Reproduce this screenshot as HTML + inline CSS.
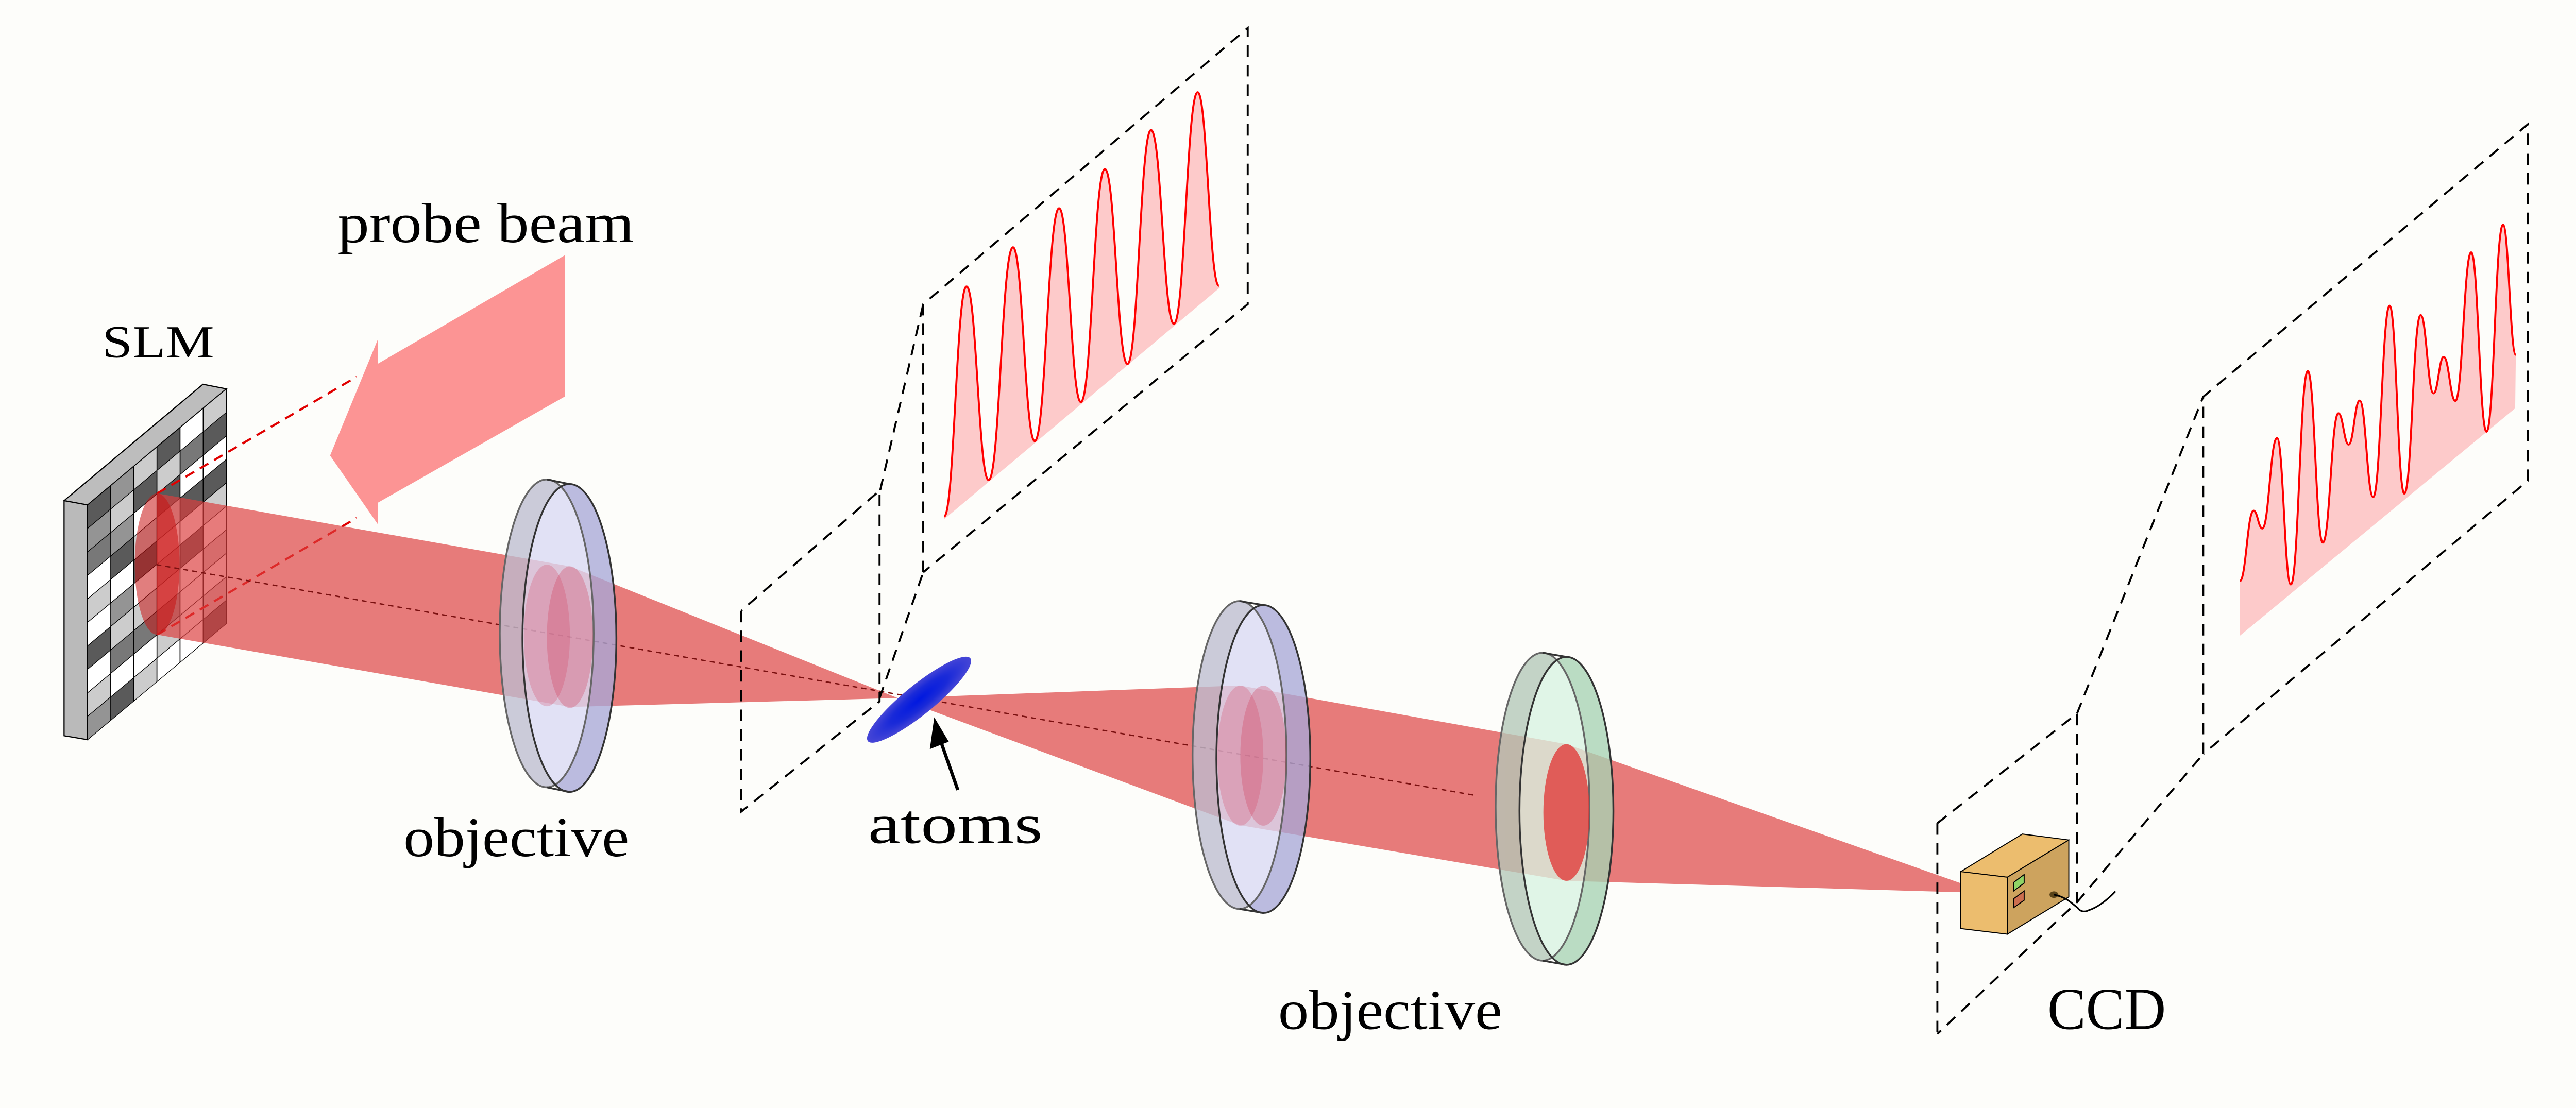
<!DOCTYPE html>
<html><head><meta charset="utf-8"><style>
html,body{margin:0;padding:0;background:#fdfdfa;}
svg{display:block;}
text{font-family:"Liberation Serif",serif;fill:#000;}
</style></head><body>
<svg width="5013" height="2151" viewBox="0 0 1568 673" preserveAspectRatio="none" xmlns="http://www.w3.org/2000/svg">
<rect width="1568" height="673" fill="#fdfdfa"/>

<!-- SLM -->
<polygon points="38.9,304.1 123.2,233.4 137.4,236.2 53.2,306.7" fill="#bdbdbd" stroke="#000" stroke-width="0.7"/>
<polygon points="38.9,304.1 53.2,306.7 53.2,449.3 38.9,446.9" fill="#bababa" stroke="#000" stroke-width="0.7"/>
<g transform="matrix(1,-0.837,0,1,53.2,306.7)" stroke="#000" stroke-width="0.5">
<g fill="#5a5a5a">
<rect x="0" y="0" width="14.03" height="14.26"/>
<rect x="0" y="85.56" width="14.03" height="14.26"/>
<rect x="14.03" y="42.78" width="14.03" height="14.26"/>
<rect x="14.03" y="128.34" width="14.03" height="14.26"/>
<rect x="28.06" y="14.26" width="14.03" height="14.26"/>
<rect x="28.06" y="57.04" width="14.03" height="14.26"/>
<rect x="42.09" y="0" width="14.03" height="14.26"/>
<rect x="42.09" y="28.52" width="14.03" height="14.26"/>
<rect x="56.12" y="42.78" width="14.03" height="14.26"/>
<rect x="56.12" y="71.3" width="14.03" height="14.26"/>
<rect x="70.15" y="14.26" width="14.03" height="14.26"/>
<rect x="70.15" y="42.78" width="14.03" height="14.26"/>
<rect x="70.15" y="128.34" width="14.03" height="14.26"/>
</g>
<g fill="#949494">
<rect x="0" y="14.26" width="14.03" height="14.26"/>
<rect x="0" y="128.34" width="14.03" height="14.26"/>
<rect x="14.03" y="0" width="14.03" height="14.26"/>
<rect x="14.03" y="28.52" width="14.03" height="14.26"/>
<rect x="14.03" y="71.3" width="14.03" height="14.26"/>
<rect x="42.09" y="99.82" width="14.03" height="14.26"/>
</g>
<g fill="#787878">
<rect x="0" y="28.52" width="14.03" height="14.26"/>
<rect x="14.03" y="99.82" width="14.03" height="14.26"/>
<rect x="28.06" y="99.82" width="14.03" height="14.26"/>
<rect x="56.12" y="14.26" width="14.03" height="14.26"/>
</g>
<g fill="#cccccc">
<rect x="0" y="57.04" width="14.03" height="14.26"/>
<rect x="0" y="114.08" width="14.03" height="14.26"/>
<rect x="14.03" y="14.26" width="14.03" height="14.26"/>
<rect x="14.03" y="85.56" width="14.03" height="14.26"/>
<rect x="28.06" y="0" width="14.03" height="14.26"/>
<rect x="28.06" y="42.78" width="14.03" height="14.26"/>
<rect x="28.06" y="85.56" width="14.03" height="14.26"/>
<rect x="28.06" y="128.34" width="14.03" height="14.26"/>
<rect x="42.09" y="14.26" width="14.03" height="14.26"/>
<rect x="42.09" y="42.78" width="14.03" height="14.26"/>
<rect x="42.09" y="71.3" width="14.03" height="14.26"/>
<rect x="42.09" y="114.08" width="14.03" height="14.26"/>
<rect x="70.15" y="0" width="14.03" height="14.26"/>
<rect x="70.15" y="57.04" width="14.03" height="14.26"/>
<rect x="70.15" y="85.56" width="14.03" height="14.26"/>
<rect x="70.15" y="114.08" width="14.03" height="14.26"/>
</g>
<g fill="#ffffff">
<rect x="0" y="42.78" width="14.03" height="14.26"/>
<rect x="0" y="71.3" width="14.03" height="14.26"/>
<rect x="0" y="99.82" width="14.03" height="14.26"/>
<rect x="14.03" y="57.04" width="14.03" height="14.26"/>
<rect x="14.03" y="114.08" width="14.03" height="14.26"/>
<rect x="28.06" y="28.52" width="14.03" height="14.26"/>
<rect x="28.06" y="71.3" width="14.03" height="14.26"/>
<rect x="28.06" y="114.08" width="14.03" height="14.26"/>
<rect x="42.09" y="57.04" width="14.03" height="14.26"/>
<rect x="42.09" y="85.56" width="14.03" height="14.26"/>
<rect x="42.09" y="128.34" width="14.03" height="14.26"/>
<rect x="56.12" y="0" width="14.03" height="14.26"/>
<rect x="56.12" y="28.52" width="14.03" height="14.26"/>
<rect x="56.12" y="57.04" width="14.03" height="14.26"/>
<rect x="56.12" y="85.56" width="14.03" height="14.26"/>
<rect x="56.12" y="99.82" width="14.03" height="14.26"/>
<rect x="56.12" y="114.08" width="14.03" height="14.26"/>
<rect x="56.12" y="128.34" width="14.03" height="14.26"/>
<rect x="70.15" y="28.52" width="14.03" height="14.26"/>
<rect x="70.15" y="71.3" width="14.03" height="14.26"/>
<rect x="70.15" y="99.82" width="14.03" height="14.26"/>
</g>
</g>

<!-- probe beam arrow -->
<polygon points="343,155 343,240.8 229.5,305.3 229.5,318.6 200.4,276.7 229.5,205.9 229.5,220.9" fill="#fc9494"/>
<g stroke="#e00000" stroke-width="1.3" stroke-dasharray="6,4" fill="none">
<line x1="95.4" y1="299.7" x2="216.5" y2="228.9"/>
<line x1="95.4" y1="385.5" x2="216.5" y2="314.6"/>
</g>

<!-- beams -->
<g fill="rgb(220,60,60)" fill-opacity="0.68">
<polygon points="95.4,299.7 346,344 346,429.4 95.4,385.5"/>
<polygon points="346,344 545,424 346,429.4"/>
<polygon points="545,424 752.7,416.4 752.7,501.2"/>
<polygon points="752.7,416.4 951,452 951,535 752.7,501.2"/>
<polygon points="951,452 1192,537 1192,542 951,535"/>
</g>
<ellipse cx="95.4" cy="342.6" rx="13.6" ry="42.9" fill="rgb(200,20,20)" fill-opacity="0.55"/>

<!-- axis -->
<line x1="95" y1="343" x2="895" y2="483" stroke="#7a1010" stroke-width="0.8" stroke-dasharray="3,2.5"/>

<!-- lens 1 -->
<defs>
<clipPath id="c1"><ellipse cx="331.9" cy="384.7" rx="28.5" ry="93.5"/></clipPath>
<clipPath id="c2"><ellipse cx="752.5" cy="458.6" rx="28.5" ry="93.5"/></clipPath>
<clipPath id="c3"><ellipse cx="936.5" cy="490" rx="28.5" ry="93.5"/></clipPath>
<radialGradient id="ag" cx="0.5" cy="0.5" r="0.5"><stop offset="0" stop-color="#0018e0"/><stop offset="0.55" stop-color="#1a2ad8"/><stop offset="1" stop-color="#4646d6"/></radialGradient>
</defs>
<g opacity="0.78">
<ellipse cx="331.9" cy="384.7" rx="28.5" ry="93.5" fill="#bdbdd0"/>
<ellipse cx="345.7" cy="387.5" rx="28.5" ry="93.5" fill="#a9a9d8"/>
<ellipse cx="345.7" cy="387.5" rx="28.5" ry="93.5" fill="#dadaf4" clip-path="url(#c1)"/>
</g>
<g fill="none" stroke="#333" stroke-width="1.1">
<ellipse cx="331.9" cy="384.7" rx="28.5" ry="93.5" stroke="#666"/>
<ellipse cx="345.7" cy="387.5" rx="28.5" ry="93.5"/>
<line x1="331.9" y1="291.2" x2="345.7" y2="294"/>
<line x1="331.9" y1="478.2" x2="345.7" y2="481"/>
</g>
<ellipse cx="332" cy="386" rx="14" ry="43" fill="rgb(210,60,90)" fill-opacity="0.25"/>
<ellipse cx="346" cy="387" rx="14" ry="43" fill="rgb(210,60,90)" fill-opacity="0.3"/>

<!-- lens 2 -->
<g opacity="0.78">
<ellipse cx="752.5" cy="458.6" rx="28.5" ry="93.5" fill="#bdbdd0"/>
<ellipse cx="767" cy="461" rx="28.5" ry="93.5" fill="#a9a9d8"/>
<ellipse cx="767" cy="461" rx="28.5" ry="93.5" fill="#dadaf4" clip-path="url(#c2)"/>
</g>
<g fill="none" stroke="#333" stroke-width="1.1">
<ellipse cx="752.5" cy="458.6" rx="28.5" ry="93.5" stroke="#666"/>
<ellipse cx="767" cy="461" rx="28.5" ry="93.5"/>
<line x1="752.5" y1="365.1" x2="767" y2="367.5"/>
<line x1="752.5" y1="552.1" x2="767" y2="554.5"/>
</g>
<ellipse cx="753" cy="459" rx="14" ry="42.5" fill="rgb(210,60,90)" fill-opacity="0.25"/>
<ellipse cx="767" cy="459" rx="14" ry="42.5" fill="rgb(210,60,90)" fill-opacity="0.3"/>

<!-- lens 3 -->
<g opacity="0.78">
<ellipse cx="936.5" cy="490" rx="28.5" ry="93.5" fill="#b4c8b8"/>
<ellipse cx="951" cy="492.5" rx="28.5" ry="93.5" fill="#a8d4b4"/>
<ellipse cx="951" cy="492.5" rx="28.5" ry="93.5" fill="#d9f4e2" clip-path="url(#c3)"/>
</g>
<g fill="none" stroke="#333" stroke-width="1.1">
<ellipse cx="936.5" cy="490" rx="28.5" ry="93.5" stroke="#666"/>
<ellipse cx="951" cy="492.5" rx="28.5" ry="93.5"/>
<line x1="936.5" y1="396.5" x2="951" y2="399"/>
<line x1="936.5" y1="583.5" x2="951" y2="586"/>
</g>
<ellipse cx="951" cy="493.5" rx="14" ry="41.5" fill="rgb(225,50,50)" fill-opacity="0.75"/>

<!-- atoms -->
<ellipse cx="558" cy="425" rx="40" ry="9" transform="rotate(-39 558 425)" fill="url(#ag)"/>
<line x1="581.5" y1="479.8" x2="570" y2="447" stroke="#000" stroke-width="2"/>
<polygon points="567.2,435.7 564.5,455 576,450.5" fill="#000"/>

<!-- dashed planes -->
<g fill="none" stroke="#000" stroke-width="1.2" stroke-dasharray="7,5">
<polyline points="450,371 450,493 534,426 534,298 450,371"/>
<line x1="534.4" y1="297.7" x2="560.5" y2="184.8"/>
<line x1="534" y1="424" x2="560.5" y2="347.6"/>
<polyline points="560.5,347.6 560.5,184.8 757.5,17 757.5,184.8 560.5,347.6"/>

<polyline points="1176.2,500 1261,433.4 1261,548 1176.2,628"/>
<line x1="1176.2" y1="500" x2="1176.2" y2="632"/>
<line x1="1261" y1="433.4" x2="1337.6" y2="241"/>
<line x1="1261" y1="548" x2="1337.6" y2="458"/>
<polyline points="1337.6,458 1337.6,241 1534.7,75.5 1534.7,292 1337.6,458"/>
</g>

<!-- peaks plane 2 -->
<path d="M573.2,313.7 C579.3,313.7 580.7,174 586.8,174 C592.8,174 594.2,291.6 600.2,291.6 C606.9,291.6 608.3,150.2 615,150.2 C620.9,150.2 622.3,267.9 628.2,267.9 C634.9,267.9 636.3,126.5 643,126.5 C648.9,126.5 650.3,244.2 656.2,244.2 C662.8,244.2 664.2,102.7 670.8,102.7 C677,102.7 678.3,221.1 684.5,221.1 C690.9,221.1 692.4,79 698.8,79 C705.1,79 706.4,196.7 712.7,196.7 C719.2,196.7 720.6,56 727.1,56 C732.9,56 734.2,173.6 740,173.6 L740.7,174.6 L573.2,315.4 Z" fill="#fdcaca"/>
<path d="M573.2,313.7 C579.3,313.7 580.7,174 586.8,174 C592.8,174 594.2,291.6 600.2,291.6 C606.9,291.6 608.3,150.2 615,150.2 C620.9,150.2 622.3,267.9 628.2,267.9 C634.9,267.9 636.3,126.5 643,126.5 C648.9,126.5 650.3,244.2 656.2,244.2 C662.8,244.2 664.2,102.7 670.8,102.7 C677,102.7 678.3,221.1 684.5,221.1 C690.9,221.1 692.4,79 698.8,79 C705.1,79 706.4,196.7 712.7,196.7 C719.2,196.7 720.6,56 727.1,56 C732.9,56 734.2,173.6 740,173.6" fill="none" stroke="#f00" stroke-width="1.2"/>

<!-- peaks plane 4 -->
<path d="M1359.8,353 C1363.6,353 1364.4,310.2 1368.2,310.2 C1370.6,310.2 1371.1,321 1373.5,321 C1377.5,321 1378.4,266.1 1382.4,266.1 C1386.2,266.1 1387,355 1390.8,355 C1395.4,355 1396.5,225.4 1401.1,225.4 C1405.2,225.4 1406.1,329.6 1410.2,329.6 C1414.5,329.6 1415.4,251 1419.7,251 C1422.5,251 1423.1,270 1425.9,270 C1428.9,270 1429.6,243.3 1432.6,243.3 C1436.3,243.3 1437.1,301.9 1440.8,301.9 C1445.3,301.9 1446.3,185.7 1450.8,185.7 C1454.8,185.7 1455.7,299.8 1459.7,299.8 C1464.2,299.8 1465.1,191.4 1469.6,191.4 C1473.1,191.4 1473.9,238.9 1477.4,238.9 C1480.2,238.9 1480.8,216.8 1483.6,216.8 C1486.8,216.8 1487.5,243.5 1490.7,243.5 C1495,243.5 1496,153.3 1500.3,153.3 C1504.5,153.3 1505.4,262.2 1509.6,262.2 C1514.1,262.2 1515.1,136.5 1519.6,136.5 C1523.1,136.5 1523.9,215.5 1527.4,215.5 L1527,248 L1359.8,386.2 Z" fill="#fdcaca"/>
<path d="M1359.8,353 C1363.6,353 1364.4,310.2 1368.2,310.2 C1370.6,310.2 1371.1,321 1373.5,321 C1377.5,321 1378.4,266.1 1382.4,266.1 C1386.2,266.1 1387,355 1390.8,355 C1395.4,355 1396.5,225.4 1401.1,225.4 C1405.2,225.4 1406.1,329.6 1410.2,329.6 C1414.5,329.6 1415.4,251 1419.7,251 C1422.5,251 1423.1,270 1425.9,270 C1428.9,270 1429.6,243.3 1432.6,243.3 C1436.3,243.3 1437.1,301.9 1440.8,301.9 C1445.3,301.9 1446.3,185.7 1450.8,185.7 C1454.8,185.7 1455.7,299.8 1459.7,299.8 C1464.2,299.8 1465.1,191.4 1469.6,191.4 C1473.1,191.4 1473.9,238.9 1477.4,238.9 C1480.2,238.9 1480.8,216.8 1483.6,216.8 C1486.8,216.8 1487.5,243.5 1490.7,243.5 C1495,243.5 1496,153.3 1500.3,153.3 C1504.5,153.3 1505.4,262.2 1509.6,262.2 C1514.1,262.2 1515.1,136.5 1519.6,136.5 C1523.1,136.5 1523.9,215.5 1527.4,215.5" fill="none" stroke="#f00" stroke-width="1.2"/>

<!-- CCD -->
<g stroke="#000" stroke-width="0.6">
<polygon points="1190.4,529.4 1227.8,506.6 1256,510.2 1218.7,532.8" fill="#ecbd6e"/>
<polygon points="1190.4,529.4 1218.7,532.8 1218.7,567.4 1190.4,564" fill="#ecbd6e"/>
<polygon points="1218.7,532.8 1256,510.2 1256,544.8 1218.7,567.4" fill="#cda35e"/>
<polygon points="1222.5,536 1228.9,531.2 1228.9,536.4 1222.5,541.2" fill="#8fd466"/>
<polygon points="1222.5,545.9 1228.9,541.2 1228.9,546.8 1222.5,551.3" fill="#cc6e4f"/>
</g>
<ellipse cx="1247" cy="543.4" rx="2.7" ry="2" fill="#5a4318"/>
<path d="M1247,543.4 C1255,545 1258,549 1261.3,551.3 C1263,554 1266,554 1268,552.9 C1274,551 1280,546 1284.3,541.4" fill="none" stroke="#000" stroke-width="1"/>

<!-- labels -->
<text x="205" y="147" font-size="34" textLength="180" lengthAdjust="spacingAndGlyphs">probe beam</text>
<text x="62" y="217" font-size="28" textLength="68" lengthAdjust="spacingAndGlyphs">SLM</text>
<text x="245" y="520" font-size="34" textLength="137" lengthAdjust="spacingAndGlyphs">objective</text>
<text x="527" y="512" font-size="34" textLength="106" lengthAdjust="spacingAndGlyphs">atoms</text>
<text x="776" y="625" font-size="34" textLength="136" lengthAdjust="spacingAndGlyphs">objective</text>
<text x="1243" y="625" font-size="36" textLength="72" lengthAdjust="spacingAndGlyphs">CCD</text>
</svg>
</body></html>
